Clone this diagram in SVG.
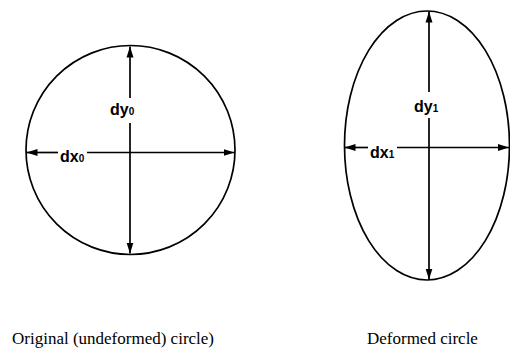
<svg xmlns="http://www.w3.org/2000/svg" width="510" height="351" viewBox="0 0 510 351">
<style>
.shape{fill:none;stroke:#000;stroke-width:1.7}
.dim{fill:none;stroke:#000;stroke-width:1.7}
.lbl{font-family:"Liberation Sans",Arial,sans-serif;font-weight:bold;font-size:16px;fill:#000}
.sub{font-size:10px}
.cap{font-family:"Liberation Serif","Times New Roman",serif;font-size:17px;fill:#000}
</style>
<defs>
<marker id="arr" markerUnits="userSpaceOnUse" markerWidth="12" markerHeight="8" refX="11" refY="4" orient="auto-start-reverse">
<path d="M0,0.5 L11,4 L0,7.5 z" fill="#000"/>
</marker>
</defs>
<rect width="510" height="351" fill="#fff"/>
<g id="circle">
<circle class="shape" cx="130.5" cy="150" r="104.5"/>
</g>
<g id="ellipse">
<ellipse class="shape" cx="427" cy="145.5" rx="82.5" ry="134.5"/>
</g>
<g id="connectors">
<line class="dim" x1="130" y1="98" x2="130" y2="46.5" marker-end="url(#arr)"/>
<line class="dim" x1="130" y1="123" x2="130" y2="253.5" marker-end="url(#arr)"/>
<line class="dim" x1="58" y1="152.5" x2="26.5" y2="152.5" marker-end="url(#arr)"/>
<line class="dim" x1="87" y1="152.5" x2="234.5" y2="152.5" marker-end="url(#arr)"/>
<line class="dim" x1="429" y1="92" x2="429" y2="11.5" marker-end="url(#arr)"/>
<line class="dim" x1="429" y1="118" x2="429" y2="279.5" marker-end="url(#arr)"/>
<line class="dim" x1="368" y1="147.5" x2="344.5" y2="147.5" marker-end="url(#arr)"/>
<line class="dim" x1="397" y1="147.5" x2="509" y2="147.5" marker-end="url(#arr)"/>
</g>
<g id="label-dy0"><text class="lbl" x="110" y="115">dy<tspan class="sub">0</tspan></text></g>
<g id="label-dx0"><text class="lbl" x="60" y="162">dx<tspan class="sub">0</tspan></text></g>
<g id="label-dy1"><text class="lbl" x="414" y="112">dy<tspan class="sub">1</tspan></text></g>
<g id="label-dx1"><text class="lbl" x="370" y="158">dx<tspan class="sub">1</tspan></text></g>
<g id="caption-left"><text class="cap" x="12" y="344">Original (undeformed) circle)</text></g>
<g id="caption-right"><text class="cap" x="367" y="344">Deformed circle</text></g>
</svg>
